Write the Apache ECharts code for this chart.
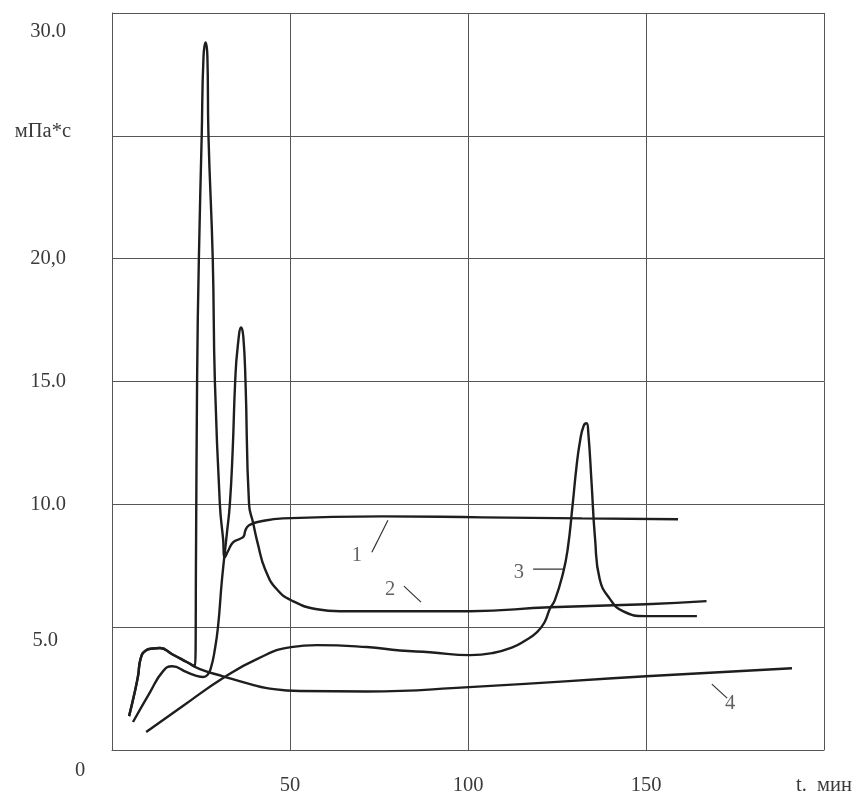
<!DOCTYPE html>
<html>
<head>
<meta charset="utf-8">
<script src="https://cdn.jsdelivr.net/npm/echarts@6/dist/echarts.min.js"></script>
<style>html,body{margin:0;padding:0;background:#fff}#c{width:856px;height:796px}</style>
</head>
<body>
<div id="c"></div>
<script>
// ---- data ----
const xTickValues = [0, 50, 100, 150, 200];
const xTickLabels = ['0', '50', '100', '150', 't.  мин'];
const yTickValues = [0, 5, 10, 15, 20, 25, 30];
const yTickLabels = ['', '5.0', '10.0', '15.0', '20,0', 'мПа*с', '30.0'];

const curve1 = [[4.8,1.38],[6.3,2.3],[7.3,3.0],[8.1,3.75],[9.5,4.05],[11.5,4.13],[13.5,4.15],[16.9,3.9],[21,3.58],[23.3,3.4],
  [23.6,8],[23.9,15],[24.4,20],[25.2,25],[25.7,28.2],[26.3,28.8],[26.8,28.2],[27.1,25],[28.3,20],[28.9,15],[30.3,10],
  [31.2,8.6],[31.7,7.85],[32.6,8.1],[34,8.45],[36,8.6],[37.0,8.7],[37.5,8.95],[38.5,9.15],[41.6,9.3],[48,9.43],[76,9.51],
  [104,9.47],[132,9.43],[159,9.39]];
const curve2 = [[5.9,1.14],[10.7,2.36],[14.3,3.2],[16.9,3.41],[21,3.17],[23.5,3.03],[25.6,2.97],[26.8,3.05],[27.8,3.35],
  [28.9,4.1],[29.8,5.04],[30.9,6.95],[32.3,8.86],[33.1,10],[33.9,12.2],[34.6,15],[35.3,16.4],[36.3,17.2],[36.9,16.8],
  [37.5,15],[38.5,10],[39.6,9.27],[41,8.37],[43,7.36],[46.3,6.54],[50.8,6.06],[57.6,5.73],[64,5.65],[76,5.65],
  [100.6,5.65],[123,5.81],[150,5.93],[167,6.06]];
const curve3 = [[9.6,0.73],[20,1.8],[31.2,2.93],[40.7,3.7],[50.3,4.19],[57.6,4.27],[71.6,4.19],[80.9,4.05],[89.3,3.98],
  [100.6,3.86],[107,3.95],[112.6,4.19],[116,4.45],[119.4,4.8],[121.5,5.2],[123,5.75],[124.4,6.1],[126.7,7.2],[128,8.17],
  [129.4,10],[130.5,11.56],[131.5,12.6],[132.5,13.2],[133.3,13.3],[133.8,12.9],[134.7,10.9],[135.7,8.58],[137,6.95],
  [139.9,6.14],[143.5,5.65],[150,5.45],[164.3,5.45]];
const curve4 = [[4.8,1.38],[6.3,2.3],[7.3,3.0],[8.1,3.75],[9.5,4.05],[11.5,4.13],[13.5,4.15],[16.9,3.9],[21,3.58],[24.7,3.29],
  [31.2,3.0],[38.8,2.68],[43.5,2.52],[52.8,2.4],[71.6,2.38],[100.3,2.56],[150,3.0],[191,3.33]];

const curveNames = ['1', '2', '3', '4'];
const labelTexts = [[68.8,7.9,'1'],[78.1,6.54,'2'],[114.3,7.24,'3'],[173.6,1.87,'4']];
const pointers = [
  [[73.0,8.05],[77.5,9.35]],
  [[82.0,6.67],[86.8,6.02]],
  [[118.3,7.36],[126.7,7.36]],
  [[168.5,2.68],[172.8,2.11]]
];

// ---- chart ----
const FONT = 'Liberation Serif';
const TXT = '#3a3a3a';
const chart = echarts.init(document.getElementById('c'), null, {renderer: 'canvas'});

const baseTok = {fontFamily: FONT, fontSize: 20.5, color: TXT};
const curveSeries = [curve1, curve2, curve3, curve4].map((d, i) => ({
  name: curveNames[i], type: 'line', data: d, symbol: 'none', smooth: 0.5,
  lineStyle: {color: '#1e1e1e', width: 2.4}, z: 3
}));
const pointerSeries = pointers.map(p => ({
  type: 'line', data: p, symbol: 'none', lineStyle: {color: '#333', width: 1.2}, z: 4
}));

chart.setOption({
  animation: false,
  backgroundColor: '#fff',
  grid: {left: 112, right: 32, top: 13, bottom: 45},
  xAxis: {
    type: 'value', min: 0, max: 200, interval: 50,
    axisLine: {lineStyle: {color: '#555', width: 1}},
    axisTick: {show: false},
    splitLine: {show: true, lineStyle: {color: '#555', width: 1}},
    axisLabel: {
      margin: 10, showMinLabel: true, showMaxLabel: true,
      formatter: v => {
        const i = xTickValues.indexOf(v);
        if (i < 0) return '';
        return (v === 0 ? '{z|' : '{n|') + xTickLabels[i] + '}';
      },
      rich: {
        n: Object.assign({}, baseTok, {padding: [15, 0, 0, 0]}),
        z: Object.assign({}, baseTok, {padding: [0, 64, 0, 0]})
      }
    }
  },
  yAxis: {
    type: 'value', min: 0, max: 30, interval: 5,
    axisLine: {show: true, lineStyle: {color: '#555', width: 1}},
    axisTick: {show: false},
    splitLine: {show: true, lineStyle: {color: '#555', width: 1}},
    axisLabel: {
      margin: 41, showMinLabel: true, showMaxLabel: true,
      formatter: v => {
        const i = yTickValues.indexOf(v);
        if (i < 0 || !yTickLabels[i]) return '';
        const s = yTickLabels[i];
        if (v === 30) return '{t|' + s + '}';
        if (v === 5) return '{f|' + s + '}';
        if (v === 25) return '{u|' + s + '}';
        return '{n|' + s + '}';
      },
      rich: {
        n: Object.assign({}, baseTok, {padding: [0, 5, 0, 0]}),
        t: Object.assign({}, baseTok, {padding: [38, 5, 0, 0]}),
        f: Object.assign({}, baseTok, {padding: [26, 13, 0, 0]}),
        u: Object.assign({}, baseTok, {padding: [0, 0, 8, 0]})
      }
    }
  },
  series: curveSeries.concat(pointerSeries, [{
    type: 'scatter', data: labelTexts, symbolSize: 1, itemStyle: {color: 'rgba(0,0,0,0)'},
    label: {show: true, position: 'inside', formatter: p => p.value[2],
      fontFamily: FONT, fontSize: 20.5, color: TXT}, z: 5
  }])
});
</script>
</body>
</html>
